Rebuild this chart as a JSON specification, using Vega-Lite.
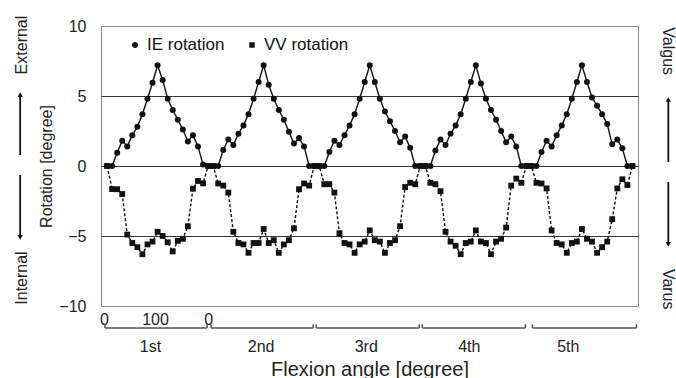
{
  "$schema": "https://vega.github.io/schema/vega-lite/v6.json",
  "width": 537,
  "height": 280,
  "autosize": {"type": "none"},
  "padding": {"left": 101, "top": 26, "right": 38, "bottom": 72},
  "config": {
    "view": {"stroke": "#8a8a8a", "strokeWidth": 1},
    "font": "Liberation Sans",
    "text": {"font": "Liberation Sans"}
  },
  "datasets": {
    "rot": [
      {"t":0,"s":"IE rotation","v":0},{"t":1,"s":"IE rotation","v":0},{"t":2,"s":"IE rotation","v":0.95},{"t":3,"s":"IE rotation","v":1.8},{"t":4,"s":"IE rotation","v":1.4},{"t":5,"s":"IE rotation","v":2.2},{"t":6,"s":"IE rotation","v":2.8},{"t":7,"s":"IE rotation","v":3.7},{"t":8,"s":"IE rotation","v":4.8},{"t":9,"s":"IE rotation","v":5.95},{"t":10,"s":"IE rotation","v":7.2},{"t":11,"s":"IE rotation","v":6.15},{"t":12,"s":"IE rotation","v":4.8},{"t":13,"s":"IE rotation","v":4.0},{"t":14,"s":"IE rotation","v":3.3},{"t":15,"s":"IE rotation","v":2.6},{"t":16,"s":"IE rotation","v":1.75},{"t":17,"s":"IE rotation","v":2.2},{"t":18,"s":"IE rotation","v":1.4},{"t":19,"s":"IE rotation","v":0.1},{"t":20,"s":"IE rotation","v":0},
      {"t":21,"s":"IE rotation","v":0},{"t":22,"s":"IE rotation","v":0},{"t":23,"s":"IE rotation","v":1.15},{"t":24,"s":"IE rotation","v":1.9},{"t":25,"s":"IE rotation","v":1.5},{"t":26,"s":"IE rotation","v":2.3},{"t":27,"s":"IE rotation","v":2.9},{"t":28,"s":"IE rotation","v":3.7},{"t":29,"s":"IE rotation","v":4.8},{"t":30,"s":"IE rotation","v":6.0},{"t":31,"s":"IE rotation","v":7.2},{"t":32,"s":"IE rotation","v":5.8},{"t":33,"s":"IE rotation","v":4.8},{"t":34,"s":"IE rotation","v":4.0},{"t":35,"s":"IE rotation","v":3.3},{"t":36,"s":"IE rotation","v":2.45},{"t":37,"s":"IE rotation","v":1.6},{"t":38,"s":"IE rotation","v":2.0},{"t":39,"s":"IE rotation","v":1.4},{"t":40,"s":"IE rotation","v":0},{"t":41,"s":"IE rotation","v":0},
      {"t":42,"s":"IE rotation","v":0},{"t":43,"s":"IE rotation","v":0},{"t":44,"s":"IE rotation","v":1.0},{"t":45,"s":"IE rotation","v":1.8},{"t":46,"s":"IE rotation","v":1.5},{"t":47,"s":"IE rotation","v":2.2},{"t":48,"s":"IE rotation","v":2.9},{"t":49,"s":"IE rotation","v":3.7},{"t":50,"s":"IE rotation","v":4.8},{"t":51,"s":"IE rotation","v":6.0},{"t":52,"s":"IE rotation","v":7.2},{"t":53,"s":"IE rotation","v":6.0},{"t":54,"s":"IE rotation","v":4.8},{"t":55,"s":"IE rotation","v":3.9},{"t":56,"s":"IE rotation","v":3.2},{"t":57,"s":"IE rotation","v":2.5},{"t":58,"s":"IE rotation","v":1.7},{"t":59,"s":"IE rotation","v":2.1},{"t":60,"s":"IE rotation","v":1.3},{"t":61,"s":"IE rotation","v":0},{"t":62,"s":"IE rotation","v":0},
      {"t":63,"s":"IE rotation","v":0},{"t":64,"s":"IE rotation","v":0},{"t":65,"s":"IE rotation","v":1.1},{"t":66,"s":"IE rotation","v":1.9},{"t":67,"s":"IE rotation","v":1.5},{"t":68,"s":"IE rotation","v":2.3},{"t":69,"s":"IE rotation","v":2.9},{"t":70,"s":"IE rotation","v":3.7},{"t":71,"s":"IE rotation","v":4.8},{"t":72,"s":"IE rotation","v":6.0},{"t":73,"s":"IE rotation","v":7.2},{"t":74,"s":"IE rotation","v":5.9},{"t":75,"s":"IE rotation","v":4.8},{"t":76,"s":"IE rotation","v":4.0},{"t":77,"s":"IE rotation","v":3.3},{"t":78,"s":"IE rotation","v":2.5},{"t":79,"s":"IE rotation","v":1.7},{"t":80,"s":"IE rotation","v":2.1},{"t":81,"s":"IE rotation","v":1.4},{"t":82,"s":"IE rotation","v":0},{"t":83,"s":"IE rotation","v":0},
      {"t":84,"s":"IE rotation","v":0},{"t":85,"s":"IE rotation","v":0},{"t":86,"s":"IE rotation","v":1.0},{"t":87,"s":"IE rotation","v":1.8},{"t":88,"s":"IE rotation","v":1.4},{"t":89,"s":"IE rotation","v":2.2},{"t":90,"s":"IE rotation","v":2.9},{"t":91,"s":"IE rotation","v":3.7},{"t":92,"s":"IE rotation","v":4.8},{"t":93,"s":"IE rotation","v":6.0},{"t":94,"s":"IE rotation","v":7.2},{"t":95,"s":"IE rotation","v":6.0},{"t":96,"s":"IE rotation","v":4.9},{"t":97,"s":"IE rotation","v":4.3},{"t":98,"s":"IE rotation","v":3.7},{"t":99,"s":"IE rotation","v":3.0},{"t":100,"s":"IE rotation","v":1.55},{"t":101,"s":"IE rotation","v":1.9},{"t":102,"s":"IE rotation","v":1.26},{"t":103,"s":"IE rotation","v":0},{"t":104,"s":"IE rotation","v":0},
      {"t":0,"s":"VV rotation","v":0},{"t":1,"s":"VV rotation","v":-1.65},{"t":2,"s":"VV rotation","v":-1.66},{"t":3,"s":"VV rotation","v":-2.0},{"t":4,"s":"VV rotation","v":-4.9},{"t":5,"s":"VV rotation","v":-5.5},{"t":6,"s":"VV rotation","v":-5.8},{"t":7,"s":"VV rotation","v":-6.3},{"t":8,"s":"VV rotation","v":-5.6},{"t":9,"s":"VV rotation","v":-5.4},{"t":10,"s":"VV rotation","v":-4.7},{"t":11,"s":"VV rotation","v":-5.0},{"t":12,"s":"VV rotation","v":-5.45},{"t":13,"s":"VV rotation","v":-6.1},{"t":14,"s":"VV rotation","v":-5.35},{"t":15,"s":"VV rotation","v":-5.2},{"t":16,"s":"VV rotation","v":-4.3},{"t":17,"s":"VV rotation","v":-1.62},{"t":18,"s":"VV rotation","v":-1.07},{"t":19,"s":"VV rotation","v":-1.24},{"t":20,"s":"VV rotation","v":0},
      {"t":21,"s":"VV rotation","v":0},{"t":22,"s":"VV rotation","v":-1.25},{"t":23,"s":"VV rotation","v":-1.4},{"t":24,"s":"VV rotation","v":-1.9},{"t":25,"s":"VV rotation","v":-4.7},{"t":26,"s":"VV rotation","v":-5.5},{"t":27,"s":"VV rotation","v":-5.6},{"t":28,"s":"VV rotation","v":-6.2},{"t":29,"s":"VV rotation","v":-5.5},{"t":30,"s":"VV rotation","v":-5.5},{"t":31,"s":"VV rotation","v":-4.5},{"t":32,"s":"VV rotation","v":-5.5},{"t":33,"s":"VV rotation","v":-5.3},{"t":34,"s":"VV rotation","v":-6.2},{"t":35,"s":"VV rotation","v":-5.6},{"t":36,"s":"VV rotation","v":-5.3},{"t":37,"s":"VV rotation","v":-4.45},{"t":38,"s":"VV rotation","v":-1.66},{"t":39,"s":"VV rotation","v":-1.25},{"t":40,"s":"VV rotation","v":-1.4},{"t":41,"s":"VV rotation","v":0},
      {"t":42,"s":"VV rotation","v":0},{"t":43,"s":"VV rotation","v":-1.3},{"t":44,"s":"VV rotation","v":-1.3},{"t":45,"s":"VV rotation","v":-1.9},{"t":46,"s":"VV rotation","v":-4.8},{"t":47,"s":"VV rotation","v":-5.5},{"t":48,"s":"VV rotation","v":-5.6},{"t":49,"s":"VV rotation","v":-6.2},{"t":50,"s":"VV rotation","v":-5.6},{"t":51,"s":"VV rotation","v":-5.4},{"t":52,"s":"VV rotation","v":-4.6},{"t":53,"s":"VV rotation","v":-5.3},{"t":54,"s":"VV rotation","v":-5.4},{"t":55,"s":"VV rotation","v":-6.2},{"t":56,"s":"VV rotation","v":-5.5},{"t":57,"s":"VV rotation","v":-5.3},{"t":58,"s":"VV rotation","v":-4.3},{"t":59,"s":"VV rotation","v":-1.5},{"t":60,"s":"VV rotation","v":-1.2},{"t":61,"s":"VV rotation","v":-1.3},{"t":62,"s":"VV rotation","v":0},
      {"t":63,"s":"VV rotation","v":0},{"t":64,"s":"VV rotation","v":-1.2},{"t":65,"s":"VV rotation","v":-1.3},{"t":66,"s":"VV rotation","v":-1.8},{"t":67,"s":"VV rotation","v":-4.7},{"t":68,"s":"VV rotation","v":-5.4},{"t":69,"s":"VV rotation","v":-5.7},{"t":70,"s":"VV rotation","v":-6.3},{"t":71,"s":"VV rotation","v":-5.5},{"t":72,"s":"VV rotation","v":-5.4},{"t":73,"s":"VV rotation","v":-4.6},{"t":74,"s":"VV rotation","v":-5.4},{"t":75,"s":"VV rotation","v":-5.5},{"t":76,"s":"VV rotation","v":-6.3},{"t":77,"s":"VV rotation","v":-5.4},{"t":78,"s":"VV rotation","v":-5.2},{"t":79,"s":"VV rotation","v":-4.4},{"t":80,"s":"VV rotation","v":-1.4},{"t":81,"s":"VV rotation","v":-0.9},{"t":82,"s":"VV rotation","v":-1.2},{"t":83,"s":"VV rotation","v":0},
      {"t":84,"s":"VV rotation","v":0},{"t":85,"s":"VV rotation","v":-1.2},{"t":86,"s":"VV rotation","v":-1.25},{"t":87,"s":"VV rotation","v":-1.6},{"t":88,"s":"VV rotation","v":-4.6},{"t":89,"s":"VV rotation","v":-5.5},{"t":90,"s":"VV rotation","v":-5.6},{"t":91,"s":"VV rotation","v":-6.2},{"t":92,"s":"VV rotation","v":-5.5},{"t":93,"s":"VV rotation","v":-5.4},{"t":94,"s":"VV rotation","v":-4.5},{"t":95,"s":"VV rotation","v":-5.2},{"t":96,"s":"VV rotation","v":-5.4},{"t":97,"s":"VV rotation","v":-6.2},{"t":98,"s":"VV rotation","v":-5.8},{"t":99,"s":"VV rotation","v":-5.4},{"t":100,"s":"VV rotation","v":-3.8},{"t":101,"s":"VV rotation","v":-1.6},{"t":102,"s":"VV rotation","v":-0.95},{"t":103,"s":"VV rotation","v":-1.36},{"t":104,"s":"VV rotation","v":0}
    ],
    "brackets": [
      {"t": -0.4, "t2": 19.8, "v": -11.57, "v2": -11.3},
      {"t": 20.6, "t2": 40.8, "v": -11.57, "v2": -11.3},
      {"t": 41.4, "t2": 61.8, "v": -11.57, "v2": -11.3},
      {"t": 62.4, "t2": 82.8, "v": -11.57, "v2": -11.3},
      {"t": 84.2, "t2": 104.8, "v": -11.57, "v2": -11.3}
    ],
    "cycles": [
      {"t": 8.6, "v": -12.9, "label": "1st"},
      {"t": 30.5, "v": -12.9, "label": "2nd"},
      {"t": 51.3, "v": -12.9, "label": "3rd"},
      {"t": 71.7, "v": -12.9, "label": "4th"},
      {"t": 91.3, "v": -12.9, "label": "5th"}
    ],
    "leftText": [
      {"t": -16.9, "v": 8.64, "label": "External"},
      {"t": -16.9, "v": -8.0, "label": "Internal"}
    ],
    "rightText": [
      {"t": 111.1, "v": 8.2, "label": "Valgus"},
      {"t": 111.1, "v": -8.8, "label": "Varus"}
    ],
    "arrows": [
      {"t": -17.2, "v": 0.79, "v2": 5.1, "dir": "up"},
      {"t": -17.2, "v": -0.64, "v2": -5.1, "dir": "down"},
      {"t": 111.1, "v": 0.29, "v2": 4.75, "dir": "up"},
      {"t": 111.1, "v": -1.14, "v2": -5.6, "dir": "down"}
    ]
  },
  "encoding": {
    "x": {
      "field": "t", "type": "quantitative",
      "scale": {"domain": [-1.2, 105.1], "nice": false, "zero": false},
      "axis": {
        "values": [-0.6, 9.5, 20],
        "labelExpr": "datum.value > 5 && datum.value < 15 ? '100' : '0'",
        "ticks": false, "domain": false, "grid": false,
        "labelFlush": false, "labelOverlap": false, "labelBound": false,
        "labelPadding": 5, "labelFontSize": 16, "labelColor": "#222", "labelFont": "Liberation Sans",
        "title": "Flexion angle [degree]", "titlePadding": 32, "titleFontSize": 20,
        "titleFontWeight": "normal", "titleColor": "#222", "titleFont": "Liberation Sans"
      }
    },
    "y": {
      "field": "v", "type": "quantitative",
      "scale": {"domain": [-10, 10], "nice": false, "zero": false},
      "axis": {
        "values": [-10, -5, 0, 5, 10],
        "ticks": false, "domain": false, "grid": true,
        "gridColor": {"condition": {"test": "abs(datum.value) == 10", "value": "transparent"}, "value": "#333"},
        "gridWidth": 1,
        "labelPadding": 15, "labelFontSize": 16, "labelColor": "#222", "labelFont": "Liberation Sans",
        "title": "Rotation [degree]", "titlePadding": 4, "titleFontSize": 16,
        "titleFontWeight": "normal", "titleColor": "#222", "titleFont": "Liberation Sans"
      }
    }
  },
  "layer": [
    {
      "data": {"name": "rot"},
      "transform": [{"filter": "datum.s === 'IE rotation'"}],
      "mark": {"type": "line", "color": "#111", "strokeWidth": 1.4}
    },
    {
      "data": {"name": "rot"},
      "transform": [{"filter": "datum.s === 'VV rotation'"}],
      "mark": {"type": "line", "color": "#111", "strokeWidth": 1.4, "strokeDash": [3, 2]}
    },
    {
      "data": {"name": "rot"},
      "transform": [{"filter": "datum.s === 'IE rotation'"}],
      "mark": {"type": "point", "shape": "circle", "filled": true, "color": "#111", "opacity": 1, "size": 36}
    },
    {
      "data": {"name": "rot"},
      "transform": [{"filter": "datum.s === 'VV rotation'"}],
      "mark": {"type": "point", "shape": "square", "filled": true, "color": "#111", "opacity": 1, "size": 34}
    },
    {
      "data": {"name": "rot"},
      "transform": [{"filter": "false"}],
      "mark": {"type": "point", "fill": "#111", "stroke": "#111", "strokeWidth": 1.4, "opacity": 1, "fillOpacity": 1, "size": 400},
      "encoding": {
        "shape": {
          "field": "s", "type": "nominal",
          "scale": {
            "domain": ["IE rotation", "VV rotation"],
            "range": [
              "M-1,0H1M-0.3,0A0.3,0.3 0 1 0 0.3,0A0.3,0.3 0 1 0 -0.3,0Z",
              "M-1,0H-0.78M-0.6,0H-0.38M0.38,0H0.6M0.78,0H1M-0.27,-0.27H0.27V0.27H-0.27Z"
            ]
          },
          "legend": {
            "orient": "none", "legendX": 23, "legendY": 8, "direction": "horizontal",
            "title": null, "padding": 0,
            "labelFontSize": 17, "labelFont": "Liberation Sans", "labelColor": "#111",
            "symbolSize": 400, "symbolStrokeWidth": 1.4,
            "symbolFillColor": "#111", "symbolStrokeColor": "#111", "symbolOpacity": 1,
            "labelOffset": 1, "columnPadding": 14
          }
        }
      }
    },
    {
      "data": {"name": "brackets"},
      "mark": {"type": "rule", "color": "#555", "strokeWidth": 1.5},
      "encoding": {"x2": {"field": "t2"}}
    },
    {
      "data": {"name": "brackets"},
      "mark": {"type": "rule", "color": "#555", "strokeWidth": 1.5},
      "encoding": {"y2": {"field": "v2"}}
    },
    {
      "data": {"name": "brackets"},
      "mark": {"type": "rule", "color": "#555", "strokeWidth": 1.5},
      "encoding": {"x": {"field": "t2", "type": "quantitative"}, "y2": {"field": "v2"}}
    },
    {
      "data": {"name": "cycles"},
      "mark": {"type": "text", "fontSize": 16, "color": "#222", "align": "center", "baseline": "middle"},
      "encoding": {"text": {"field": "label"}}
    },
    {
      "data": {"name": "leftText"},
      "mark": {"type": "text", "fontSize": 16, "color": "#222", "align": "center", "baseline": "middle", "angle": 270},
      "encoding": {"text": {"field": "label"}}
    },
    {
      "data": {"name": "rightText"},
      "mark": {"type": "text", "fontSize": 16, "color": "#222", "align": "center", "baseline": "middle", "angle": 90},
      "encoding": {"text": {"field": "label"}}
    },
    {
      "data": {"name": "arrows"},
      "mark": {"type": "rule", "color": "#111", "strokeWidth": 1.8},
      "encoding": {"y2": {"field": "v2"}}
    },
    {
      "data": {"name": "arrows"},
      "transform": [{"filter": "datum.dir === 'up'"}],
      "mark": {"type": "point", "shape": "triangle-up", "filled": true, "color": "#111", "opacity": 1, "size": 28},
      "encoding": {"y": {"field": "v2", "type": "quantitative"}}
    },
    {
      "data": {"name": "arrows"},
      "transform": [{"filter": "datum.dir === 'down'"}],
      "mark": {"type": "point", "shape": "triangle-down", "filled": true, "color": "#111", "opacity": 1, "size": 28},
      "encoding": {"y": {"field": "v2", "type": "quantitative"}}
    }
  ]
}
